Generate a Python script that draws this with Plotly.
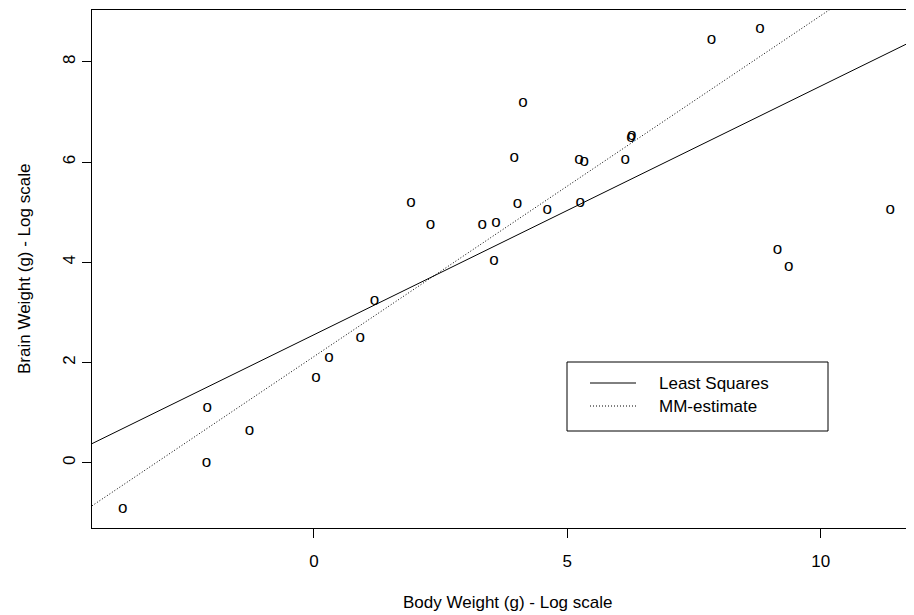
import plotly.graph_objects as go

# Animals data (natural log of body weight and brain weight)
animals = ["Mountain beaver", "Cow", "Grey wolf", "Goat", "Guinea pig", "Dipliodocus",
           "Asian elephant", "Donkey", "Horse", "Potar monkey", "Cat", "Giraffe",
           "Gorilla", "Human", "African elephant", "Triceratops", "Rhesus monkey",
           "Kangaroo", "Golden hamster", "Mouse", "Rabbit", "Sheep", "Jaguar",
           "Chimpanzee", "Rat", "Brachiosaurus", "Mole", "Pig"]
log_body = [0.300, 6.142, 3.593, 3.320, 0.039, 9.367, 7.843, 5.232, 6.256, 2.303,
            1.194, 6.271, 5.333, 4.127, 8.803, 9.148, 1.917, 3.555, -2.120, -3.772,
            0.916, 4.016, 4.605, 3.954, -1.273, 11.374, -2.104, 5.257]
log_brain = [2.092, 6.047, 4.783, 4.745, 1.705, 3.912, 8.434, 6.038, 6.485, 4.745,
             3.243, 6.522, 6.006, 7.185, 8.650, 4.248, 5.187, 4.025, 0.000, -0.916,
             2.493, 5.165, 5.056, 6.087, 0.642, 5.040, 1.099, 5.193]

ls_coef = [2.555, 0.496]   # intercept, slope
mm_coef = [2.12, 0.68]

x_range = [-4.378, 11.841]
y_range = [-1.299, 9.033]
x_ticks = [0, 5, 10]
y_ticks = [0, 2, 4, 6, 8]
legend_labels = ["Least Squares", "MM-estimate"]

FONT = "Liberation Sans, Arial, Helvetica, sans-serif"
FS = 17
OFF = 8  # default page body margin
W, H = 914 - OFF, 615 - OFF
# plot area on screen: x 92..914, y 10..528
ML, MR, MT, MB = 92 - OFF, 0, 10 - OFF, 615 - 528
PW, PH = 914 - 92, 528 - 10


def px(sx):
    return (sx - 92) / PW


def py(sy):
    return (528 - sy) / PH


fig = go.Figure()

fig.add_trace(go.Scatter(
    x=log_body, y=log_brain, mode="text", text=["o"] * len(log_body),
    textposition="middle center", textfont=dict(family=FONT, size=FS, color="black"),
    hovertext=animals, showlegend=False))

DOT = "1px,2px"
for coef, dash in [(ls_coef, "solid"), (mm_coef, DOT)]:
    xs = list(x_range)
    ys = [coef[0] + coef[1] * v for v in xs]
    fig.add_trace(go.Scatter(x=xs, y=ys, mode="lines",
                             line=dict(color="black", width=1, dash=dash),
                             showlegend=False, hoverinfo="skip"))

# legend box drawn manually (R-style)
shapes = [
    dict(type="rect", xref="paper", yref="paper", x0=px(567), x1=px(828), y0=py(431), y1=py(362),
         line=dict(color="black", width=1), fillcolor="white", layer="above"),
    dict(type="line", xref="paper", yref="paper", x0=px(590), x1=px(636), y0=py(383), y1=py(383),
         line=dict(color="black", width=1), layer="above"),
    dict(type="line", xref="paper", yref="paper", x0=px(590), x1=px(636), y0=py(406), y1=py(406),
         line=dict(color="black", width=1, dash=DOT), layer="above"),
]
annotations = [
    dict(text=legend_labels[0], xref="paper", yref="paper", x=px(657), y=py(383),
         xanchor="left", yanchor="middle", showarrow=False, font=dict(family=FONT, size=FS, color="black")),
    dict(text=legend_labels[1], xref="paper", yref="paper", x=px(657), y=py(406),
         xanchor="left", yanchor="middle", showarrow=False, font=dict(family=FONT, size=FS, color="black")),
    dict(text="Body Weight (g) - Log scale", xref="paper", yref="paper", x=px(507), y=py(602),
         xanchor="center", yanchor="middle", showarrow=False, font=dict(family=FONT, size=FS, color="black")),
    dict(text="Brain Weight (g) - Log scale", xref="paper", yref="paper", x=px(24), y=py(269),
         xanchor="center", yanchor="middle", textangle=-90, showarrow=False,
         font=dict(family=FONT, size=FS, color="black")),
]

fig.update_layout(
    width=W, height=H, autosize=False,
    margin=dict(l=ML, r=MR, t=MT, b=MB, pad=0),
    paper_bgcolor="white", plot_bgcolor="white",
    shapes=shapes, annotations=annotations, showlegend=False,
    xaxis=dict(range=x_range, showgrid=False, zeroline=False, showline=True, mirror=True,
               linecolor="black", linewidth=1, ticks="outside", ticklen=9, tickwidth=1,
               tickcolor="black", tickvals=x_ticks, ticktext=[str(v) for v in x_ticks],
               ticklabelstandoff=9,
               tickfont=dict(family=FONT, size=FS, color="black")),
    yaxis=dict(range=y_range, showgrid=False, zeroline=False, showline=True, mirror=False,
               linecolor="black", linewidth=1, ticks="outside", ticklen=9, tickwidth=1,
               tickcolor="black", tickvals=y_ticks, ticktext=[str(v) for v in y_ticks],
               tickangle=-90, tickfont=dict(family=FONT, size=FS, color="black")),
)

fig.write_html("out.html")
